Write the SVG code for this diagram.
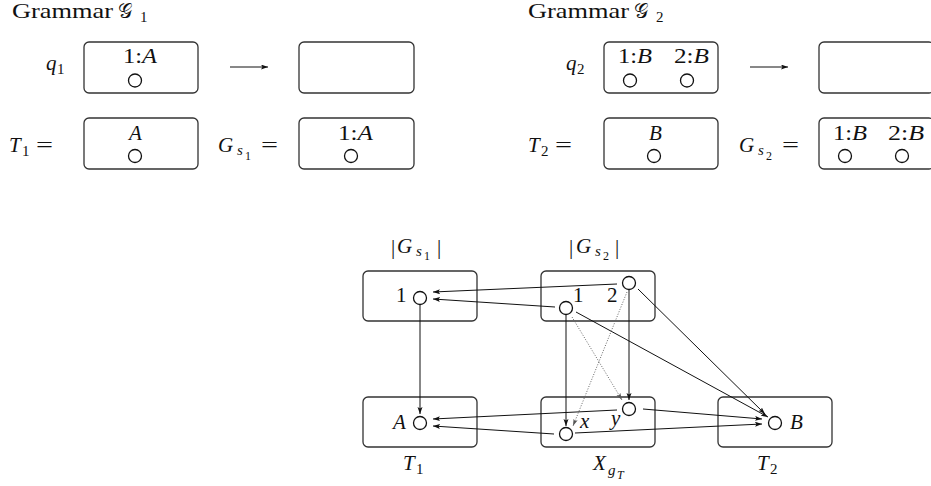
<svg xmlns="http://www.w3.org/2000/svg" width="931" height="486" viewBox="0 0 931 486">
<style>
text{font-family:"Liberation Serif","Times New Roman",serif;fill:#111;font-size:21px}
.i{font-style:italic}
.n{font-style:normal}
.s{font-size:15px}
.ss{font-size:12px}
.box{fill:#fff;stroke:#333;stroke-width:1.3}
.c{fill:#fff;stroke:#111;stroke-width:1.3}
.e{fill:none;stroke:#111;stroke-width:1}
.d{fill:none;stroke:#666;stroke-width:1;stroke-dasharray:1 1.6}
.cal{font-family:"DejaVu Sans",serif;font-style:normal;font-size:20px}
</style>
<defs>
<marker id="ah" markerUnits="userSpaceOnUse" markerWidth="8" markerHeight="6" refX="7" refY="2.5" orient="auto">
<path d="M0,0 L7,2.5 L0,5 L1.5,2.5 z" fill="#111"/>
</marker>
<marker id="ahd" markerUnits="userSpaceOnUse" markerWidth="8" markerHeight="6" refX="7" refY="2.5" orient="auto">
<path d="M0,0.3 L7,2.5 L0,4.7 L1.5,2.5 z" fill="#555"/>
</marker>
</defs>
<rect width="931" height="486" fill="#fff"/>

<!-- Grammar 1 -->
<g id="grammar1-title">
<text x="12" y="18" textLength="101" lengthAdjust="spacingAndGlyphs">Grammar</text>
<text x="118" y="18" class="cal">𝒢</text><text x="140" y="22" class="s">1</text>
</g>
<g id="q1-label"><text x="46" y="70" class="i">q<tspan class="s n" x="57" y="74">1</tspan></text></g>
<g id="q1-lhs">
<rect class="box" x="84" y="42" width="114" height="51" rx="5"/>
<text x="123" y="63" textLength="34" lengthAdjust="spacingAndGlyphs">1:<tspan class="i">A</tspan></text>
<circle class="c" cx="135" cy="80.5" r="6.5"/>
</g>
<g id="q1-rhs"><rect class="box" x="299" y="42" width="115" height="51" rx="5"/></g>
<g id="T1-def">
<text x="9" y="152" class="i">T<tspan class="s n" x="22" y="156">1</tspan></text><text x="36" y="152" textLength="17" lengthAdjust="spacingAndGlyphs">=</text>
<rect class="box" x="84" y="118" width="114" height="51" rx="5"/>
<text x="129" y="140" class="i">A</text>
<circle class="c" cx="135" cy="156" r="6.5"/>
</g>
<g id="Gs1-def">
<text x="218" y="152" class="i">G<tspan class="s" x="237" y="155">s</tspan><tspan class="ss n" x="245" y="160">1</tspan></text><text x="261" y="152" textLength="17" lengthAdjust="spacingAndGlyphs">=</text>
<rect class="box" x="299" y="118" width="115" height="51" rx="5"/>
<text x="338" y="140" textLength="35" lengthAdjust="spacingAndGlyphs">1:<tspan class="i">A</tspan></text>
<circle class="c" cx="351" cy="156" r="6.5"/>
</g>

<!-- Grammar 2 -->
<g id="grammar2-title">
<text x="528" y="18" textLength="101" lengthAdjust="spacingAndGlyphs">Grammar</text>
<text x="634" y="18" class="cal">𝒢</text><text x="656" y="22" class="s">2</text>
</g>
<g id="q2-label"><text x="566" y="70" class="i">q<tspan class="s n" x="577" y="74">2</tspan></text></g>
<g id="q2-lhs">
<rect class="box" x="604" y="42" width="114" height="51" rx="5"/>
<text x="618" y="63" textLength="34" lengthAdjust="spacingAndGlyphs">1:<tspan class="i">B</tspan></text>
<text x="674" y="63" textLength="35" lengthAdjust="spacingAndGlyphs">2:<tspan class="i">B</tspan></text>
<circle class="c" cx="630" cy="80.5" r="6.5"/>
<circle class="c" cx="687" cy="80.5" r="6.5"/>
</g>
<g id="q2-rhs"><rect class="box" x="819" y="42" width="115" height="51" rx="5"/></g>
<g id="T2-def">
<text x="528" y="152" class="i">T<tspan class="s n" x="541" y="156">2</tspan></text><text x="555" y="152" textLength="17" lengthAdjust="spacingAndGlyphs">=</text>
<rect class="box" x="604" y="118" width="114" height="51" rx="5"/>
<text x="649" y="140" class="i">B</text>
<circle class="c" cx="654" cy="156" r="6.5"/>
</g>
<g id="Gs2-def">
<text x="739" y="152" class="i">G<tspan class="s" x="758" y="155">s</tspan><tspan class="ss n" x="766" y="160">2</tspan></text><text x="782" y="152" textLength="17" lengthAdjust="spacingAndGlyphs">=</text>
<rect class="box" x="819" y="118" width="115" height="51" rx="5"/>
<text x="833" y="140" textLength="34" lengthAdjust="spacingAndGlyphs">1:<tspan class="i">B</tspan></text>
<text x="888" y="140" textLength="36" lengthAdjust="spacingAndGlyphs">2:<tspan class="i">B</tspan></text>
<circle class="c" cx="845" cy="156" r="6.5"/>
<circle class="c" cx="902" cy="156" r="6.5"/>
</g>

<!-- bottom graph nodes -->
<g id="absGs1">
<text x="391" y="254">|<tspan class="i" x="397" y="253">G</tspan><tspan class="s i" x="416" y="256">s</tspan><tspan class="ss" x="424" y="260">1</tspan><tspan x="437" y="254">|</tspan></text>
<rect class="box" x="363" y="271" width="114" height="50" rx="5"/>
<text x="396" y="302">1</text>
<circle class="c" cx="420" cy="298" r="6.5"/>
</g>
<g id="absGs2">
<text x="569" y="254">|<tspan class="i" x="576" y="253">G</tspan><tspan class="s i" x="595" y="256">s</tspan><tspan class="ss" x="603" y="260">2</tspan><tspan x="615" y="254">|</tspan></text>
<rect class="box" x="541" y="271" width="114" height="50" rx="5"/>
<text x="573" y="302">1</text>
<text x="607" y="302">2</text>
<circle class="c" cx="566" cy="308" r="6.5"/>
<circle class="c" cx="629" cy="283" r="6.5"/>
</g>
<g id="T1">
<rect class="box" x="363" y="397" width="114" height="50" rx="5"/>
<text x="393" y="429" class="i">A</text>
<circle class="c" cx="420" cy="423" r="6.5"/>
<text x="403" y="470" class="i">T<tspan class="s n" x="416" y="474">1</tspan></text>
</g>
<g id="XgT">
<rect class="box" x="541" y="397" width="114" height="50" rx="5"/>
<circle class="c" cx="629" cy="409" r="6.5"/>
<circle class="c" cx="566" cy="434" r="6.5"/>
<text x="580" y="428" class="i">x</text>
<text x="611" y="425" class="i">y</text>
<text x="593" y="470" class="i">X<tspan class="s" x="608" y="475">g</tspan><tspan class="ss" x="617" y="479">T</tspan></text>
</g>
<g id="T2">
<rect class="box" x="718" y="397" width="114" height="50" rx="5"/>
<circle class="c" cx="775" cy="423" r="6.5"/>
<text x="790" y="429" class="i">B</text>
<text x="757" y="470" class="i">T<tspan class="s n" x="770" y="474">2</tspan></text>
</g>

<g id="connectors">
<line class="e" x1="230" y1="67" x2="268" y2="67" marker-end="url(#ah)"/>
<line class="e" x1="750" y1="67" x2="788" y2="67" marker-end="url(#ah)"/>
<line class="e" x1="617" y1="284" x2="433" y2="292" marker-end="url(#ah)"/>
<line class="e" x1="555" y1="307" x2="433" y2="299" marker-end="url(#ah)"/>
<line class="e" x1="420" y1="305" x2="420" y2="414" marker-end="url(#ah)"/>
<line class="e" x1="566" y1="315" x2="566" y2="426" marker-end="url(#ah)"/>
<line class="e" x1="629" y1="290" x2="629" y2="400" marker-end="url(#ah)"/>
<line class="e" x1="576" y1="312" x2="768" y2="417" marker-end="url(#ah)"/>
<line class="e" x1="638" y1="289" x2="765" y2="414" marker-end="url(#ah)"/>
<line class="e" x1="643" y1="409" x2="762" y2="419" marker-end="url(#ah)"/>
<line class="e" x1="575" y1="433" x2="762" y2="424" marker-end="url(#ah)"/>
<line class="e" x1="617" y1="410" x2="433" y2="419" marker-end="url(#ah)"/>
<line class="e" x1="554" y1="434" x2="433" y2="426" marker-end="url(#ah)"/>
<line class="d" x1="572" y1="317" x2="622" y2="400" marker-end="url(#ahd)"/>
<line class="d" x1="627" y1="292" x2="573" y2="426" marker-end="url(#ahd)"/>
</g>
</svg>
